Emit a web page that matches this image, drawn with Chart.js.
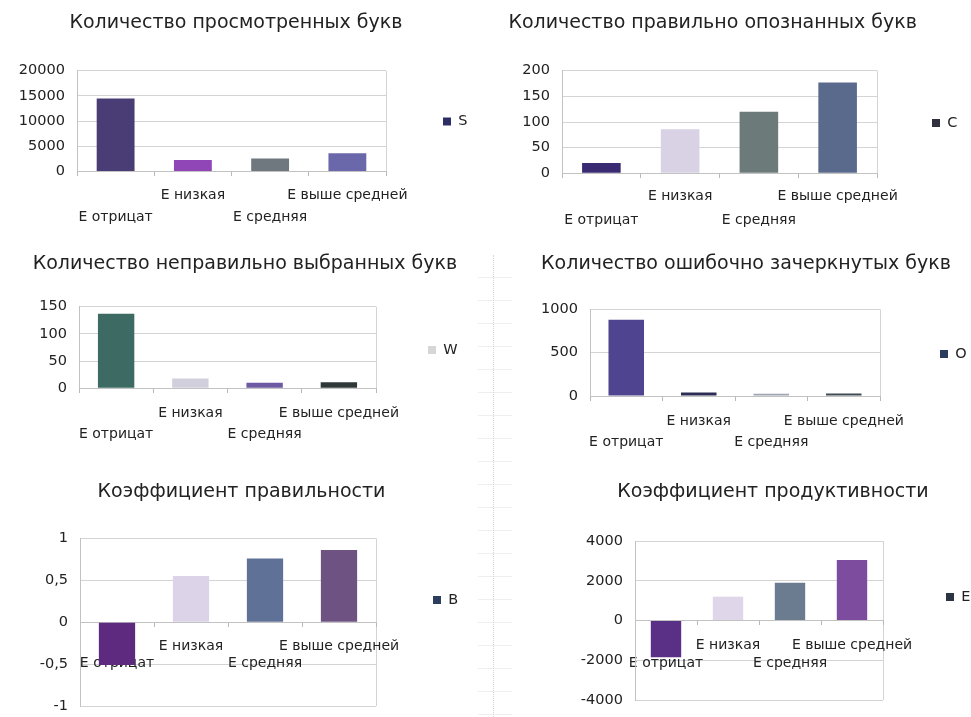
<!DOCTYPE html>
<html lang="ru">
<head>
<meta charset="utf-8">
<title>Показатели по группам E</title>
<script src="https://cdn.jsdelivr.net/npm/chart.js@4.4.1/dist/chart.umd.min.js"></script>
<style>
  html, body { margin: 0; padding: 0; background: #fff; width: 971px; height: 717px; overflow: hidden; }
  body { position: relative; }
  #divider {
    position: absolute; left: 478px; top: 255px; width: 34px; height: 462px;
    background: repeating-linear-gradient(to bottom, transparent 0 22px, rgba(215,215,215,0.4) 22px 23px);
  }
  #divider::after {
    content: ''; position: absolute; left: 15px; top: 0; bottom: 0;
    border-left: 1px dotted #d6d6d6;
  }
</style>
</head>
<body>
<div id="divider"></div>
<script>
// ---- categories (groups by coefficient E) ----
const categories = ['E отрицат', 'E низкая', 'E средняя', 'E выше средней'];

// ---- series values ----
const viewedS = [14500, 2300, 2600, 3600];      // просмотренные буквы
const correctC = [20, 86, 120, 177];            // правильно опознанные
const wrongW = [137, 18, 10, 11];               // неправильно выбранные
const crossedO = [880, 40, 25, 30];             // ошибочно зачеркнутые
const accuracyB = [-0.51, 0.55, 0.76, 0.86];    // коэффициент правильности
const productivityE = [-1850, 1200, 1900, 3050];// коэффициент продуктивности

// ---- value-axis tick labels ----
const ticksS = [0, 5000, 10000, 15000, 20000];
const ticksC = [0, 50, 100, 150, 200];
const ticksW = [0, 50, 100, 150];
const ticksO = [0, 500, 1000];
const ticksB = [-1, -0.5, 0, 0.5, 1];
const ticksE = [-4000, -2000, 0, 2000, 4000];

// ---- chart titles and series names ----
const titles = [
  'Количество просмотренных букв',
  'Количество правильно опознанных букв',
  'Количество неправильно выбранных букв',
  'Количество ошибочно зачеркнутых букв',
  'Коэффициент правильности',
  'Коэффициент продуктивности'
];
const seriesNames = ['S', 'C', 'W', 'O', 'B', 'E'];
const seriesValues = [viewedS, correctC, wrongW, crossedO, accuracyB, productivityE];
const seriesTicks = [ticksS, ticksC, ticksW, ticksO, ticksB, ticksE];

// ---- look of each panel: bar fills, legend swatch, placement on the page ----
const panelStyles = [
  { colors: ['#4a3c74', '#9046b6', '#6f787e', '#6a68aa'], swatch: '#2e2e66',
    plot: { L: 77, R: 386, T: 70.7, B: 171.5 }, head: { x: 236, y: 23.5 }, legendAt: { x: 443, y: 121.5 }, cat: { lh: 22, pad: 8.5 } },
  { colors: ['#3a2a72', '#d9d2e4', '#6c7a7a', '#5a6a8c'], swatch: '#30303e',
    plot: { L: 562, R: 877, T: 70.7, B: 173.3 }, head: { x: 712.7, y: 23.5 }, legendAt: { x: 932, y: 123 }, cat: { lh: 23.3, pad: 7.9 } },
  { colors: ['#3d6a62', '#d2cfdc', '#6e5aa2', '#2e3838'], swatch: '#d6d6d6',
    plot: { L: 79, R: 376, T: 306.7, B: 388.3 }, head: { x: 245, y: 264 }, legendAt: { x: 428, y: 350 }, cat: { lh: 21, pad: 10.2 } },
  { colors: ['#4e4490', '#2c2c55', '#9ea4b0', '#3e4a52'], swatch: '#2a3a5c',
    plot: { L: 590, R: 880, T: 309.3, B: 396 }, head: { x: 746, y: 264 }, legendAt: { x: 940, y: 354 }, cat: { lh: 20.6, pad: 11.2 } },
  { colors: ['#5e2a80', '#dcd3e8', '#5f7196', '#6e5282'], swatch: '#2c3e5c',
    plot: { L: 80, R: 376, T: 538.3, B: 706 }, head: { x: 241.5, y: 492 }, legendAt: { x: 433, y: 600 }, cat: { lh: 16.6, pad: 12.1 } },
  { colors: ['#5a3086', '#dfd6ea', '#6b7c90', '#7d4c9e'], swatch: '#2c3444',
    plot: { L: 635, R: 883, T: 541, B: 700 }, head: { x: 773, y: 492 }, legendAt: { x: 946, y: 597 }, cat: { lh: 18, pad: 12 } }
];

const FONT_FAMILY = '"DejaVu Sans", sans-serif';
const TICK_SIZE = 14.5, CAT_SIZE = 14, TITLE_SIZE = 19, LEG_SIZE = 14.5, BOX = 8;
const TEXT = '#222222', GRID = '#d4d4d4', AXIS = '#c2c2c2';

Chart.defaults.font.family = FONT_FAMILY;
Chart.defaults.color = TEXT;

const measureCtx = document.createElement('canvas').getContext('2d');
function textWidth(t, size) {
  measureCtx.font = size + 'px ' + FONT_FAMILY;
  return measureCtx.measureText(t).width;
}
const decimalComma = v => String(v).replace('.', ',');

// moves the legend block so its single entry sits at a given height
const legendPlace = {
  id: 'legendPlace',
  afterLayout(chart, args, opts) {
    const lg = chart.legend;
    if (!lg || opts.y == null) return;
    const dy = opts.y - (lg.top + lg.bottom) / 2;
    lg.top += dy;
    lg.bottom += dy;
  }
};

panelStyles.forEach((st, k) => {
  const name = seriesNames[k];
  const ticks = seriesTicks[k];
  const lh = TITLE_SIZE * 1.2;

  // canvas box and paddings that put title, plot area and legend in place
  const right = Math.round(st.legendAt.x + BOX + LEG_SIZE / 2 + textWidth(name, LEG_SIZE) + 5);
  const cx = Math.round(2 * st.head.x - right);
  const cw = right - cx;
  const d = 2 * (st.head.x - cx) - cw;
  const pl = Math.max(0, d), pr = Math.max(0, -d);
  const cy = Math.round(st.head.y - lh / 2 - 4);
  const ch = Math.round(st.plot.B - cy + 62);
  const tTop = st.head.y - cy - lh / 2;
  const tBottom = st.plot.T - cy - tTop - lh;
  const pb = ch - (st.plot.B - cy);
  const yw = st.plot.L - cx - pl;
  const lw = (cw - pr) - (st.plot.R - cx);
  const lp = st.legendAt.x - st.plot.R;

  const cv = document.createElement('canvas');
  cv.width = cw; cv.height = ch;
  cv.style.cssText = `position:absolute;left:${cx}px;top:${cy}px;width:${cw}px;height:${ch}px;`;
  document.body.appendChild(cv);

  new Chart(cv, {
    type: 'bar',
    data: {
      labels: categories,
      datasets: [{
        label: name,
        data: seriesValues[k],
        backgroundColor: st.colors,
        borderWidth: 0,
        barPercentage: 1,
        categoryPercentage: 0.49
      }]
    },
    options: {
      responsive: false,
      animation: false,
      devicePixelRatio: 1,
      layout: { padding: { left: pl, right: pr, top: 0, bottom: pb } },
      plugins: {
        title: {
          display: true, text: titles[k], color: TEXT,
          font: { size: TITLE_SIZE, weight: 'normal', lineHeight: 1.2 },
          padding: { top: tTop, bottom: tBottom }
        },
        legend: {
          position: 'right', fullSize: false, maxWidth: lw,
          labels: {
            boxWidth: BOX, boxHeight: BOX, padding: lp, color: TEXT,
            font: { size: LEG_SIZE },
            generateLabels: () => [{
              text: name, fillStyle: st.swatch, strokeStyle: st.swatch, fontColor: TEXT,
              lineWidth: 0, hidden: false, datasetIndex: 0
            }]
          }
        },
        tooltip: { enabled: false },
        legendPlace: { y: st.legendAt.y - cy }
      },
      scales: {
        x: {
          position: { y: 0 },
          z: 1,
          offset: true,
          grid: {
            offset: true,
            drawOnChartArea: true,
            color: c => (c.type === 'scale' ? GRID : 'rgba(0,0,0,0)'),
            tickLength: 4,
            tickColor: '#b8b8b8'
          },
          border: { color: AXIS },
          ticks: {
            autoSkip: false, maxRotation: 0, minRotation: 0,
            padding: st.cat.pad, color: TEXT,
            font: { size: CAT_SIZE, lineHeight: st.cat.lh + 'px' },
            callback(v, i) {
              const t = this.getLabelForValue(v);
              return i % 2 ? [t] : ['', t];
            }
          }
        },
        y: {
          min: ticks[0],
          max: ticks[ticks.length - 1],
          afterFit: s => { s.width = yw; },
          grid: { color: GRID, drawTicks: false },
          border: { color: AXIS },
          ticks: {
            stepSize: ticks[1] - ticks[0],
            padding: 12, color: TEXT,
            font: { size: TICK_SIZE },
            callback: v => decimalComma(v)
          }
        }
      }
    },
    plugins: [legendPlace]
  });
});
</script>
</body>
</html>
